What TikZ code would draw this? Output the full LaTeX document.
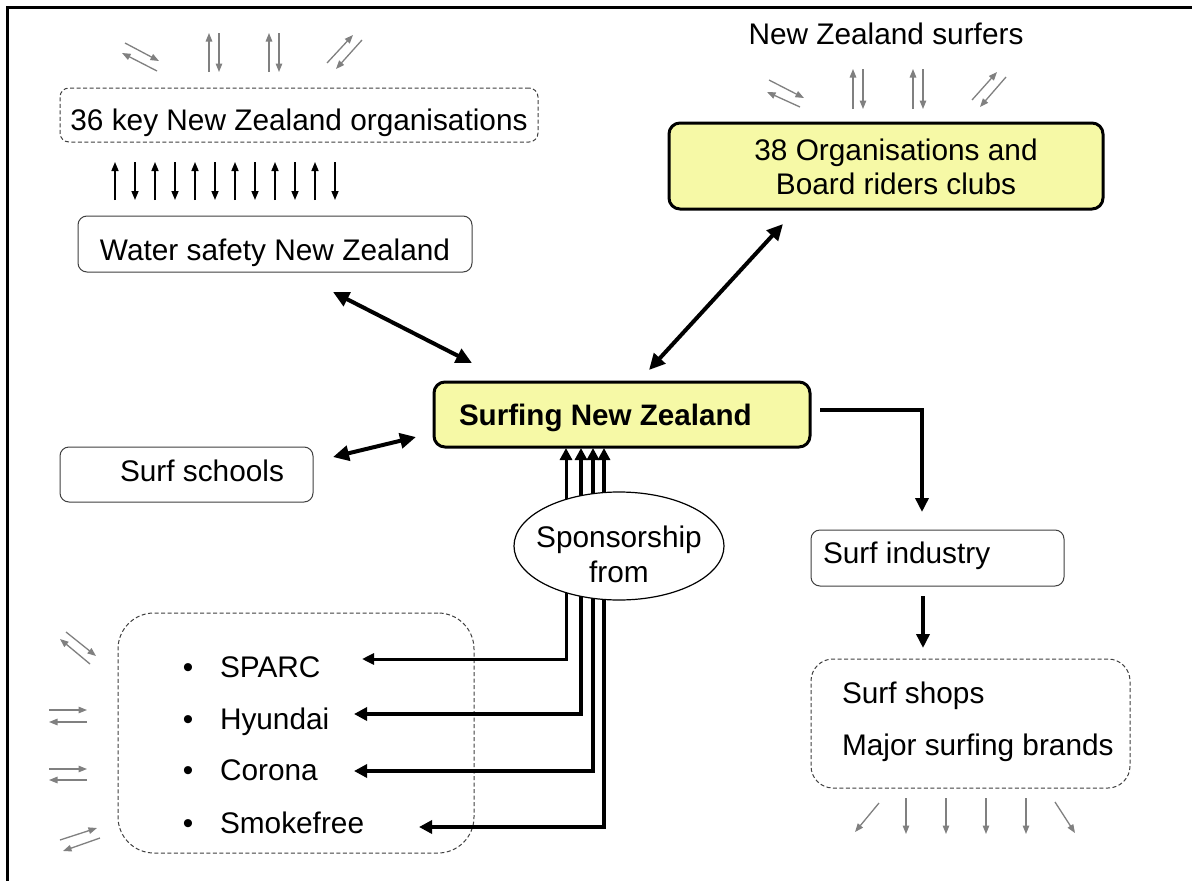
\documentclass[tikz,border=0pt]{standalone}
\usepackage{fontspec}
\setmainfont{Liberation Sans}
\usetikzlibrary{arrows.meta,shapes.geometric}
\definecolor{boxyellow}{RGB}{246,249,166}
\definecolor{arrgray}{RGB}{128,128,128}
\begin{document}
\begin{tikzpicture}[x=1pt,y=-1pt,
  every node/.style={inner sep=0pt, outer sep=0pt},
  txt/.style={font=\fontsize{29.8}{34}\selectfont},
  boldtxt/.style={font=\fontsize{29.6}{34}\selectfont\bfseries},
  plainbox/.style={draw=black!75, line width=1pt, rounded corners=9pt, fill=white},
  dashbox/.style={draw=black!75, line width=1pt, dash pattern=on 4pt off 2.5pt},
  yelbox/.style={draw=black, line width=3pt, rounded corners=11pt, fill=boxyellow},
  bigarr/.style={line width=4pt, {Triangle[length=16pt,width=15pt]}-{Triangle[length=16pt,width=15pt]}},
  onearr/.style={line width=3.5pt, -{Triangle[length=14pt,width=13pt]}},
  sparr/.style={line width=3.5pt, {Triangle[length=13pt,width=13pt]}-{Triangle[length=12pt,width=12pt]}},
  spthin/.style={line width=3pt, {Triangle[length=12pt,width=11pt]}-{Triangle[length=12pt,width=12pt]}},
  blarr/.style={line width=1.5pt, -{Triangle[length=9pt,width=7pt]}},
  grarr/.style={draw=arrgray, line width=1.3pt, -{Triangle[length=8.5pt,width=6.5pt]}}
]
\useasboundingbox (0,0) rectangle (1192,881);
\fill[white] (0,0) rectangle (1192,881);
% frame
\draw[line width=3pt] (7,881) -- (7,7) -- (1192,7);

% ---------- boxes ----------
\node[dashbox, rounded corners=9pt, minimum width=478, minimum height=54] (keybox) at (299,115) {};
\node[txt, anchor=base] (keytxt) at (299,130) {36 key New Zealand organisations};

\node[plainbox, minimum width=394, minimum height=56] (wsbox) at (275,244) {};
\node[txt, anchor=base] (wstxt) at (275,260) {Water safety New Zealand};

\node[txt, anchor=base] (surfers) at (886,44) {New Zealand surfers};
\node[yelbox, minimum width=434, minimum height=86] (org38) at (886,166) {};
\node[txt, anchor=base] (org38a) at (896,160) {38 Organisations and};
\node[txt, anchor=base] (org38b) at (896,194) {Board riders clubs};

\node[yelbox, minimum width=376, minimum height=65] (snz) at (622,414.5) {};
\node[boldtxt, anchor=base west] (snztxt) at (459,425) {Surfing New Zealand};

\node[plainbox, minimum width=253, minimum height=55] (schools) at (186.5,474.5) {};
\node[txt, anchor=base west] (schoolstxt) at (120,481) {Surf schools};

\node[plainbox, minimum width=253, minimum height=56] (industry) at (937.5,558) {};
\node[txt, anchor=base west] (industrytxt) at (823,563) {Surf industry};

\node[dashbox, rounded corners=22pt, minimum width=319, minimum height=129] (shops) at (970.5,723.5) {};
\node[txt, anchor=base west] (shopstxt) at (842,703) {Surf shops};
\node[txt, anchor=base west] (brandstxt) at (842,755) {Major surfing brands};

\node[dashbox, rounded corners=36pt, minimum width=356, minimum height=240] (sponsbox) at (296,733) {};
\node[txt, anchor=base] (b1) at (188,677) {•};
\node[txt, anchor=base] (b2) at (188,729) {•};
\node[txt, anchor=base] (b3) at (188,780) {•};
\node[txt, anchor=base] (b4) at (188,833) {•};
\node[txt, anchor=base west] (sparc) at (220,677) {SPARC};
\node[txt, anchor=base west] (hyundai) at (220,729) {Hyundai};
\node[txt, anchor=base west] (corona) at (220,780) {Corona};
\node[txt, anchor=base west] (smokefree) at (220,833) {Smokefree};

% ---------- connectors ----------
\foreach \i in {0,...,5}{
  \draw[blarr] ({115+40*\i},200) -- ({115+40*\i},162);
  \draw[blarr] ({135+40*\i},162) -- ({135+40*\i},200);
}

\coordinate (wsend) at (333,292);
\coordinate (snzws) at (472,363);
\draw[bigarr] (wsend) -- (snzws);

\coordinate (orgend) at (783,224);
\coordinate (snzorg) at (649,370);
\draw[bigarr] (orgend) -- (snzorg);

\coordinate (schend) at (333,457);
\coordinate (snzsch) at (416,437);
\draw[bigarr] (schend) -- (snzsch);

\coordinate (snzout) at (820,410);
\coordinate (indcol) at (922,512);
\draw[onearr] (snzout) -| (indcol);

\coordinate (indout) at (923,596);
\coordinate (shopsin) at (923,648);
\draw[onearr] (indout) -- (shopsin);

% sponsorship lines
\coordinate (tipA) at (362,659);
\coordinate (tipB) at (354,714);
\coordinate (tipC) at (354,771);
\coordinate (tipD) at (419,827);
\coordinate (colA) at (566,659);
\coordinate (colB) at (581,714);
\coordinate (colC) at (593,771);
\coordinate (colD) at (604,827);
\draw[spthin] (tipA) -- (colA) -- ([yshift=-1pt]colA |- snz.south);
\draw[sparr] (tipB) -- (colB) -- ([yshift=-1pt]colB |- snz.south);
\draw[sparr] (tipC) -- (colC) -- ([yshift=-1pt]colC |- snz.south);
\draw[sparr] (tipD) -- (colD) -- ([yshift=-1pt]colD |- snz.south);

\node[ellipse, draw=black, line width=1.2pt, fill=white, minimum width=210, minimum height=108] (spons) at (619,546) {};
\node[txt, anchor=base] (sponsa) at (619,547) {Sponsorship};
\node[txt, anchor=base] (sponsb) at (619,582) {from};

% ---------- gray arrows ----------
% top left
\draw[grarr] (125,43) -- (159,61);
\draw[grarr] (157,71) -- (122,53);
\draw[grarr] (209,72) -- (209,33);
\draw[grarr] (219,33) -- (219,72);
\draw[grarr] (269,72) -- (269,33);
\draw[grarr] (279,33) -- (279,72);
\draw[grarr] (327,63) -- (353,35);
\draw[grarr] (362,40) -- (336,69);
% top right
\draw[grarr] (769,80) -- (804,98);
\draw[grarr] (800,107) -- (767,92);
\draw[grarr] (853,109) -- (853,69);
\draw[grarr] (863,69) -- (863,109);
\draw[grarr] (913,109) -- (913,69);
\draw[grarr] (923,69) -- (923,109);
\draw[grarr] (972,100) -- (997,72);
\draw[grarr] (1006,77) -- (980,107);
% left
\draw[grarr] (66,632) -- (96,656);
\draw[grarr] (90,664) -- (60,639);
\draw[grarr] (49,710) -- (87,710);
\draw[grarr] (87,722) -- (49,722);
\draw[grarr] (49,769) -- (87,769);
\draw[grarr] (87,780) -- (49,780);
\draw[grarr] (60,840) -- (97,828);
\draw[grarr] (100,838) -- (63,851);
% bottom right
\draw[grarr] (879,803) -- (855,832);
\foreach \x in {906,946,986,1026}{
  \draw[grarr] (\x,798) -- (\x,834);
}
\draw[grarr] (1055,802) -- (1075,833);
\end{tikzpicture}
\end{document}
